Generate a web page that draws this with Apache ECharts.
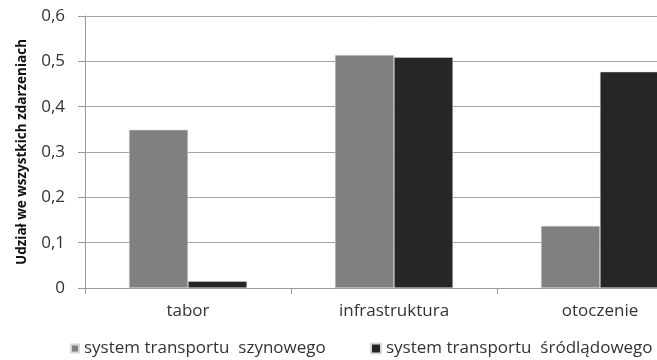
<!DOCTYPE html>
<html>
<head>
<meta charset="utf-8">
<script src="https://cdn.jsdelivr.net/npm/echarts@6/dist/echarts.min.js"></script>
<style>
  html, body { margin: 0; padding: 0; background: #fff; }
  #main { width: 657px; height: 360px; }
</style>
</head>
<body>
<div id="main"></div>
<script>
var categories = ['tabor', 'infrastruktura', 'otoczenie']
var szynowy = [0.349, 0.514, 0.137]
var srodladowy = [0.015, 0.509, 0.477]
var yTicks = [0, 0.1, 0.2, 0.3, 0.4, 0.5, 0.6]

var font = 'Open Sans'
var chart = echarts.init(document.getElementById('main'))

chart.setOption({
  animation: false,
  textStyle: { fontFamily: font },
  grid: {
    left: 85,
    top: 16,
    width: 618,
    height: 272,
    containLabel: false,
    outerBoundsMode: 'none'
  },
  legend: [
    {
      left: 65,
      top: 335,
      itemWidth: 8,
      itemHeight: 8,
      itemGap: 4,
      icon: 'rect',
      textStyle: { fontSize: 17, color: '#333', fontFamily: font },
      data: ['system transportu  szynowego']
    },
    {
      left: 365,
      top: 335,
      itemWidth: 10,
      itemHeight: 10,
      icon: 'rect',
      textStyle: { fontSize: 17, color: '#333', fontFamily: font },
      data: ['system transportu  śródlądowego']
    }
  ],
  xAxis: {
    type: 'category',
    data: categories,
    axisLine: { lineStyle: { color: '#999', width: 1 } },
    axisTick: { show: true, length: 6, lineStyle: { color: '#999' } },
    axisLabel: { color: '#333', fontSize: 17, margin: 15, fontFamily: font }
  },
  yAxis: {
    type: 'value',
    min: yTicks[0],
    max: yTicks[yTicks.length - 1],
    interval: 0.1,
    name: 'Udział we wszystkich zdarzeniach',
    nameLocation: 'middle',
    nameGap: 56,
    nameTextStyle: { fontSize: 13.5, fontWeight: 'bold', color: '#111', fontFamily: font },
    axisLine: { show: true, lineStyle: { color: '#999' } },
    axisTick: { show: true, length: 7, lineStyle: { color: '#999' } },
    axisLabel: {
      color: '#333',
      fontSize: 17,
      margin: 20,
      fontFamily: font,
      formatter: function (v) {
        return v === 0 ? '0' : v.toFixed(1).replace('.', ',')
      }
    },
    splitLine: { lineStyle: { color: '#a6a6a6', width: 1 } }
  },
  series: [
    {
      name: 'system transportu  szynowego',
      type: 'bar',
      data: szynowy,
      barWidth: 59,
      barGap: '0%',
      itemStyle: { color: '#808080', borderColor: '#d9d9d9', borderWidth: 0.5 }
    },
    {
      name: 'system transportu  śródlądowego',
      type: 'bar',
      data: srodladowy,
      barWidth: 59,
      barGap: '0%',
      itemStyle: { color: '#262626', borderColor: '#d9d9d9', borderWidth: 0.5 }
    }
  ]
})
</script>
</body>
</html>
